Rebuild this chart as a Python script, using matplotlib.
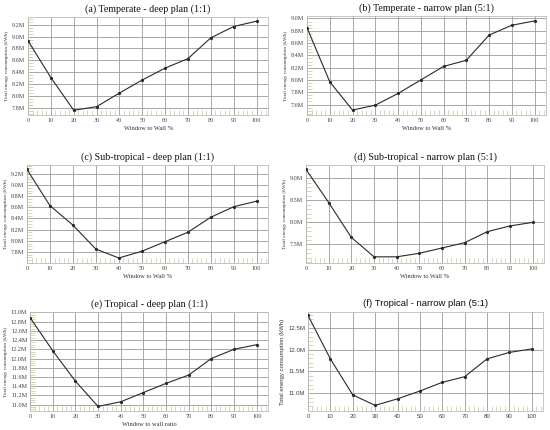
import matplotlib
matplotlib.use("Agg")
import matplotlib.pyplot as plt
from matplotlib.ticker import AutoMinorLocator

wwr = [0, 10, 20, 30, 40, 50, 60, 70, 80, 90, 100]

temp_deep = [8.93, 8.31, 7.76, 7.82, 8.05, 8.27, 8.47, 8.63, 8.98, 9.17, 9.26]
temp_narrow = [8.85, 7.97, 7.51, 7.59, 7.78, 8.00, 8.22, 8.32, 8.73, 8.89, 8.96]
sub_deep = [9.28, 8.63, 8.28, 7.85, 7.69, 7.81, 7.98, 8.15, 8.42, 8.61, 8.71]
sub_narrow = [9.20, 8.45, 7.66, 7.22, 7.22, 7.30, 7.42, 7.54, 7.79, 7.92, 8.00]
trop_deep = [12.89, 12.17, 11.51, 10.96, 11.06, 11.26, 11.46, 11.64, 12.00, 12.20, 12.30]
trop_narrow = [12.79, 11.79, 10.96, 10.72, 10.87, 11.05, 11.25, 11.38, 11.79, 11.94, 12.02]

titles = ["(a) Temperate - deep plan (1:1)", "(b) Temperate - narrow plan (5:1)",
          "(c) Sub-tropical - deep plan (1:1)", "(d) Sub-tropical - narrow plan (5:1)",
          "(e) Tropical - deep plan (1:1)", "(f) Tropical - narrow plan (5:1)"]
xlabels = ["Window to Wall %", "Window to Wall %", "Window to Wall %",
           "Window to Wall %", "Window to wall ratio", ""]
ylabel = "Total energy consumption (kWh)"

yticks_a = [7.8, 8.0, 8.2, 8.4, 8.6, 8.8, 9.0, 9.2]
yticks_b = [7.6, 7.8, 8.0, 8.2, 8.4, 8.6, 8.8, 9.0]
yticks_c = [7.8, 8.0, 8.2, 8.4, 8.6, 8.8, 9.0, 9.2]
yticks_d = [7.5, 8.0, 8.5, 9.0]
yticks_e = [11.0, 11.2, 11.4, 11.6, 11.8, 12.0, 12.2, 12.4, 12.6, 12.8, 13.0]
yticks_f = [11.0, 11.5, 12.0, 12.5]
ylims = [(7.68, 9.33), (7.43, 9.04), (7.60, 9.36), (7.08, 9.30), (10.86, 13.01), (10.59, 12.87)]
ytick_sets = [yticks_a, yticks_b, yticks_c, yticks_d, yticks_e, yticks_f]
series = [temp_deep, temp_narrow, sub_deep, sub_narrow, trop_deep, trop_narrow]

fig = plt.figure(figsize=(5.5, 4.3), dpi=100)
fig.patch.set_facecolor("white")

W, H = 550.0, 430.0
boxes = [(28, 268, 17, 115), (307, 546, 16, 115),
         (27, 268, 165, 263), (306, 544, 165, 263),
         (30, 268, 312, 411), (308, 543, 312, 411)]

for i in range(6):
    l, r, t, b = boxes[i]
    ax = fig.add_axes([l / W, 1 - b / H, (r - l) / W, (b - t) / H])
    serif = i < 5
    fam = ["Liberation Serif"] if serif else ["Liberation Sans"]
    ax.plot(wwr, series[i], color="#2a2a2a", lw=0.8, marker="o", ms=1.3, zorder=3)
    ax.set_xlim(0, 105)
    ax.set_ylim(*ylims[i])
    ax.set_xticks(wwr)
    ax.set_xticklabels([str(v) for v in wwr], fontsize=4.4, family=fam, color="#444444")
    yt = ytick_sets[i]
    ax.set_yticks(yt)
    ax.set_yticklabels(["%.1fM" % v for v in yt], fontsize=4.4, family=fam, color="#444444")
    ax.tick_params(axis="both", which="major", length=0, pad=2)
    ax.xaxis.set_minor_locator(AutoMinorLocator(5))
    ax.yaxis.set_minor_locator(AutoMinorLocator(4 if len(yt) > 4 else 5))
    ax.tick_params(axis="both", which="minor", direction="in", length=3.5,
                   width=0.6, color="#d8cf9c")
    ax.grid(True, which="major", color="#9a9a9a", lw=0.6)
    for s in ax.spines.values():
        s.set_color("#bdbdbd")
        s.set_linewidth(0.6)
    ax.set_title(titles[i], fontsize=7.2 if serif else 6.8, family=fam, pad=4, color="#111111")
    if xlabels[i]:
        ax.set_xlabel(xlabels[i], fontsize=4.6, family=fam, labelpad=2, color="#333333")
    ax.set_ylabel(ylabel, fontsize=3.8 if serif else 4.3, family=fam, labelpad=2, color="#333333")

fig.savefig("out.png", dpi=100, facecolor="white")
